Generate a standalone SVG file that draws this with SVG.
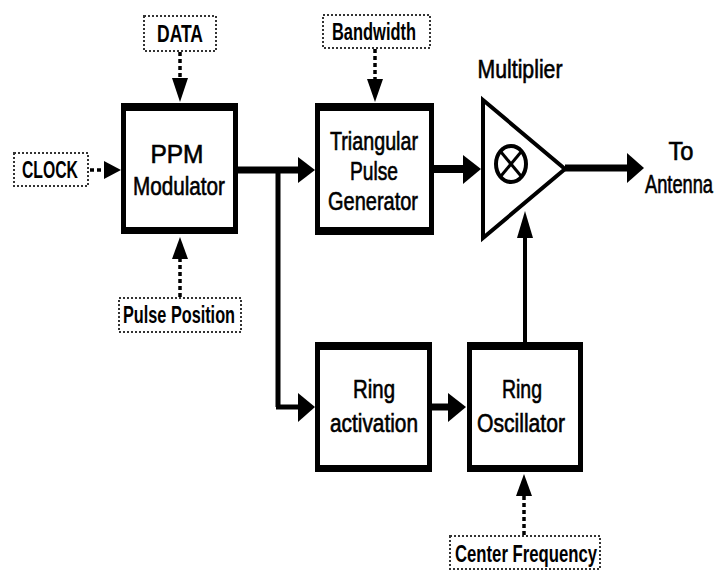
<svg xmlns="http://www.w3.org/2000/svg" width="719" height="571" viewBox="0 0 719 571">
<style>
  .outer{fill:#000}
  .inner{fill:#fff}
  .lbl{font-family:"Liberation Sans",Arial,sans-serif;font-size:25px;fill:#000;stroke:#000;stroke-width:0.6;text-anchor:middle}
  .tag{font-family:"Liberation Sans",Arial,sans-serif;font-size:24px;font-weight:bold;fill:#000;text-anchor:middle}
  .dbox{fill:#fff;stroke:#333;stroke-width:2;stroke-dasharray:2 2}
  .wire{stroke:#000;fill:none}
  .dot{stroke:#000;stroke-width:3.5;stroke-dasharray:4 3;fill:none}
  .head{fill:#000}
</style>
<rect width="719" height="571" fill="#fff"/>
<g id="connectors">
  <line class="wire" x1="238" y1="170" x2="300" y2="170" stroke-width="7"/>
  <polygon class="head" points="298,157 315,170 298,183"/>
  <line class="wire" x1="278" y1="170" x2="278" y2="407" stroke-width="5"/>
  <line class="wire" x1="276" y1="407" x2="300" y2="407" stroke-width="5"/>
  <polygon class="head" points="298,393 315,407 298,422"/>
  <line class="wire" x1="432" y1="169" x2="465" y2="169" stroke-width="8"/>
  <polygon class="head" points="463,155 481,169 463,184"/>
  <line class="wire" x1="565" y1="168" x2="629" y2="168" stroke-width="7"/>
  <polygon class="head" points="627,153 644,168 627,183"/>
  <line class="wire" x1="432" y1="407" x2="450" y2="407" stroke-width="7"/>
  <polygon class="head" points="448,393 466,407 448,422"/>
  <line class="wire" x1="525" y1="342" x2="525" y2="236" stroke-width="4"/>
  <polygon class="head" points="517,238 525,211 533,238"/>
  <line class="dot" x1="180" y1="52" x2="180" y2="80"/>
  <polygon class="head" points="172,78 180,102 188,78"/>
  <line class="dot" x1="375" y1="49" x2="375" y2="80"/>
  <polygon class="head" points="367,79 375,102 383,79"/>
  <line class="dot" x1="90" y1="170" x2="106" y2="170"/>
  <polygon class="head" points="104,161 121,170 104,179"/>
  <line class="dot" x1="180" y1="297" x2="180" y2="257"/>
  <polygon class="head" points="172,259 180,237 188,259"/>
  <line class="dot" x1="524" y1="535" x2="524" y2="494"/>
  <polygon class="head" points="516,496 524,474 532,496"/>
</g>
<g id="ppm">
  <rect class="outer" x="121" y="103" width="117" height="131"/>
  <rect class="inner" x="126" y="111" width="107" height="116"/>
  <text class="lbl" x="177" y="163" textLength="53" lengthAdjust="spacingAndGlyphs">PPM</text>
  <text class="lbl" x="179" y="195" textLength="92" lengthAdjust="spacingAndGlyphs">Modulator</text>
</g>
<g id="triangular">
  <rect class="outer" x="315" y="103" width="119" height="132"/>
  <rect class="inner" x="320" y="111" width="109" height="116"/>
  <text class="lbl" x="374" y="150" textLength="88" lengthAdjust="spacingAndGlyphs">Triangular</text>
  <text class="lbl" x="374" y="180" textLength="48" lengthAdjust="spacingAndGlyphs">Pulse</text>
  <text class="lbl" x="373" y="210" textLength="90" lengthAdjust="spacingAndGlyphs">Generator</text>
</g>
<g id="ringact">
  <rect class="outer" x="315" y="342" width="117" height="130"/>
  <rect class="inner" x="320" y="350" width="107" height="115"/>
  <text class="lbl" x="374" y="398" textLength="42" lengthAdjust="spacingAndGlyphs">Ring</text>
  <text class="lbl" x="374" y="432" textLength="88" lengthAdjust="spacingAndGlyphs">activation</text>
</g>
<g id="ringosc">
  <rect class="outer" x="467" y="342" width="116" height="130"/>
  <rect class="inner" x="472" y="350" width="106" height="115"/>
  <text class="lbl" x="522" y="398" textLength="40" lengthAdjust="spacingAndGlyphs">Ring</text>
  <text class="lbl" x="521" y="432" textLength="88" lengthAdjust="spacingAndGlyphs">Oscillator</text>
</g>
<g id="multiplier">
  <polygon points="483,100 565,169 483,238" fill="#fff" stroke="#000" stroke-width="4" stroke-linejoin="miter"/>
  <ellipse cx="511" cy="164" rx="15" ry="18" fill="none" stroke="#000" stroke-width="4"/>
  <line x1="500.4" y1="151.3" x2="521.6" y2="176.7" stroke="#000" stroke-width="3"/>
  <line x1="521.6" y1="151.3" x2="500.4" y2="176.7" stroke="#000" stroke-width="3"/>
  <text class="lbl" x="520" y="78" textLength="85" lengthAdjust="spacingAndGlyphs">Multiplier</text>
</g>
<g id="antenna">
  <text class="lbl" x="681" y="160" textLength="25" lengthAdjust="spacingAndGlyphs">To</text>
  <text class="lbl" x="679" y="193" font-size="24" textLength="68" lengthAdjust="spacingAndGlyphs">Antenna</text>
</g>
<g id="data">
  <rect class="dbox" x="144" y="16" width="72" height="35"/>
  <text class="tag" x="180" y="42" textLength="46" lengthAdjust="spacingAndGlyphs">DATA</text>
</g>
<g id="bandwidth">
  <rect class="dbox" x="323" y="15" width="107" height="33"/>
  <text class="tag" x="374" y="40" textLength="84" lengthAdjust="spacingAndGlyphs">Bandwidth</text>
</g>
<g id="clock">
  <rect class="dbox" x="14" y="153" width="74" height="33"/>
  <text class="tag" x="50" y="178" textLength="56" lengthAdjust="spacingAndGlyphs">CLOCK</text>
</g>
<g id="pulsepos">
  <rect class="dbox" x="119" y="298" width="122" height="34"/>
  <text class="tag" x="179" y="323" textLength="112" lengthAdjust="spacingAndGlyphs">Pulse Position</text>
</g>
<g id="centerfreq">
  <rect class="dbox" x="450" y="536" width="150" height="33"/>
  <text class="tag" x="526" y="562" textLength="142" lengthAdjust="spacingAndGlyphs">Center Frequency</text>
</g>
</svg>
